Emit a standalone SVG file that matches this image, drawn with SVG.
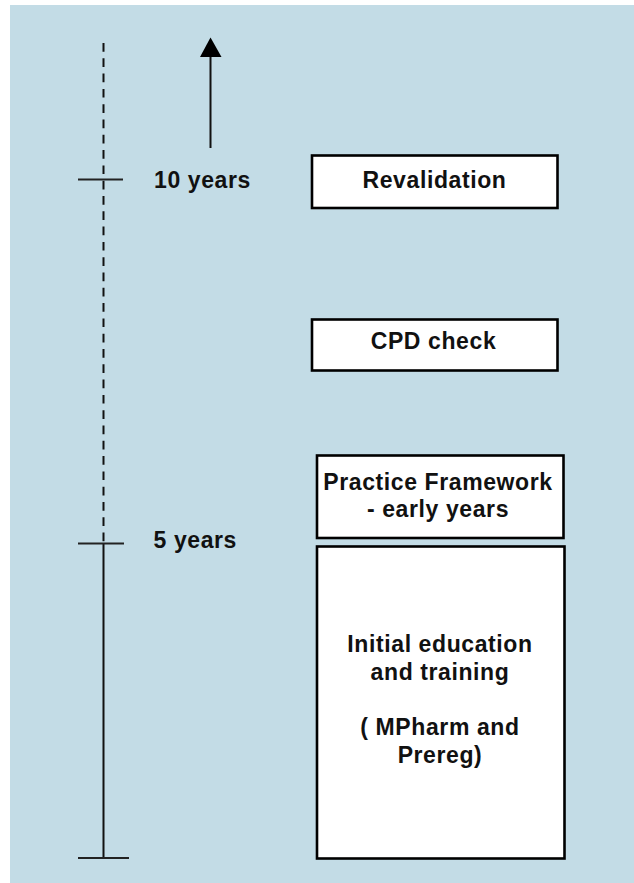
<svg xmlns="http://www.w3.org/2000/svg" width="634" height="883" viewBox="0 0 634 883">
<style>
.bg{fill:#C3DCE6}
.box{fill:#fff;stroke:#000;stroke-width:2.6}
.t{font-family:"Liberation Sans",Arial,sans-serif;font-weight:bold;font-size:23px;letter-spacing:0.6px;fill:#111}
.c{text-anchor:middle}
.ax{stroke:#111;stroke-width:2;fill:none}
.tick{stroke:#222;stroke-width:1.8}
</style>
<rect class="bg" x="10" y="5" width="624" height="878"/>
<g id="connectors">
<line class="ax" x1="103.5" y1="43" x2="103.5" y2="543.5" stroke-dasharray="8.7 6.6"/>
<line class="ax" x1="103.5" y1="543.5" x2="103.5" y2="858"/>
<line class="tick" x1="78" y1="179.5" x2="123" y2="179.5"/>
<line class="tick" x1="78" y1="543.5" x2="124" y2="543.5"/>
<line class="tick" x1="78" y1="858" x2="129" y2="858"/>
<line class="ax" x1="210.5" y1="148" x2="210.5" y2="56"/>
<polygon points="210.5,37.5 200,57 221.5,57" fill="#000"/>
</g>
<g id="label-10">
<text class="t" x="154" y="188">10 years</text>
</g>
<g id="label-5">
<text class="t" x="153.5" y="548">5 years</text>
</g>
<g id="revalidation">
<rect class="box" x="312" y="155.5" width="245.5" height="52.5"/>
<text class="t c" x="434.5" y="188">Revalidation</text>
</g>
<g id="cpd">
<rect class="box" x="312" y="319.5" width="245.5" height="51"/>
<text class="t c" x="433.5" y="349">CPD check</text>
</g>
<g id="practice">
<rect class="box" x="317" y="455.5" width="246.5" height="82.5"/>
<text class="t c" x="438" y="490">Practice Framework</text>
<text class="t c" x="438" y="517">- early years</text>
</g>
<g id="initial">
<rect class="box" x="317" y="546.5" width="247.5" height="312"/>
<text class="t c" x="440" y="652">Initial education</text>
<text class="t c" x="440" y="679.5">and training</text>
<text class="t c" x="440" y="735">( MPharm and</text>
<text class="t c" x="440" y="763">Prereg)</text>
</g>
</svg>
